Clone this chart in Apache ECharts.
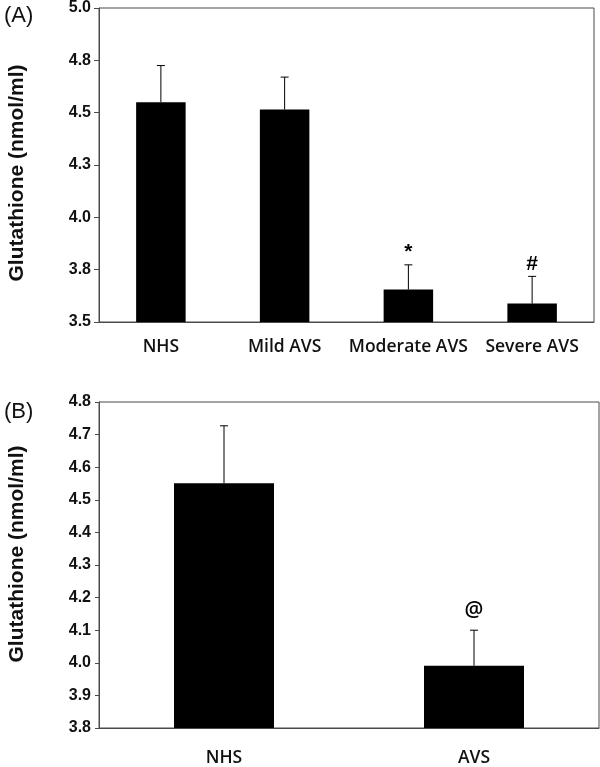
<!DOCTYPE html>
<html>
<head>
<meta charset="utf-8">
<script src="https://cdn.jsdelivr.net/npm/echarts@6/dist/echarts.min.js"></script>
<style>
html,body{margin:0;padding:0;background:#fff;}
#chart{width:600px;height:767px;}
</style>
</head>
<body>
<div id="chart"></div>
<script>
// Panel A data
var categoriesA = ['NHS', 'Mild AVS', 'Moderate AVS', 'Severe AVS'];
var meansA = [4.55, 4.515, 3.655, 3.588];
var errorsA = [0.175, 0.155, 0.118, 0.130];
var marksA = ['', '', '*', '#'];
var tickLabelsA = ['3.5', '3.8', '4.0', '4.3', '4.5', '4.8', '5.0'];

// Panel B data
var categoriesB = ['NHS', 'AVS'];
var meansB = [4.551, 3.991];
var errorsB = [0.176, 0.109];
var marksB = ['', '@'];
var tickLabelsB = ['3.8', '3.9', '4.0', '4.1', '4.2', '4.3', '4.4', '4.5', '4.6', '4.7', '4.8'];

var yTitle = 'Glutathione (nmol/ml)';
var panelLabels = ['(A)', '(B)'];

var chart = echarts.init(document.getElementById('chart'), null, {renderer: 'canvas'});

var axisColor = '#4a4a4a';

function errData(means, errs, marks) {
  return means.map(function (m, i) { return [i, m, errs[i], marks[i]]; });
}

function renderErr(markFont) {
  return function (params, api) {
    var i = api.value(0);
    var m = api.value(1);
    var e = api.value(2);
    var mark = api.value(3);
    var p0 = api.coord([i, m]);
    var p1 = api.coord([i, m + e]);
    var cap = 4;
    var children = [
      {type: 'line', shape: {x1: p0[0], y1: p0[1], x2: p1[0], y2: p1[1]}, style: {stroke: '#000', lineWidth: 1}},
      {type: 'line', shape: {x1: p1[0] - cap, y1: p1[1], x2: p1[0] + cap, y2: p1[1]}, style: {stroke: '#000', lineWidth: 1}}
    ];
    if (mark) {
      children.push({
        type: 'text',
        style: {
          text: mark, x: p1[0], y: p1[1] - markFont.gap,
          align: 'center', verticalAlign: 'bottom',
          font: markFont.font, fill: '#000'
        }
      });
    }
    return {type: 'group', children: children};
  };
}

var xLabelStyle = {color: '#111', fontFamily: 'Open Sans', fontSize: 17.5, fontWeight: 600};
var yLabelStyle = {color: '#111', fontFamily: 'Liberation Sans', fontSize: 16, fontWeight: 'bold'};

var option = {
  animation: false,
  backgroundColor: '#fff',
  grid: [
    {left: 99, top: 5, right: 6, bottom: 445, show: true, borderColor: axisColor, borderWidth: 1, backgroundColor: 'transparent'},
    {left: 99, top: 402, right: 1, bottom: 39, show: true, borderColor: axisColor, borderWidth: 1, backgroundColor: 'transparent'}
  ],
  xAxis: [
    {type: 'category', gridIndex: 0, data: categoriesA, boundaryGap: true,
     axisLine: {lineStyle: {color: axisColor}}, axisTick: {show: false},
     axisLabel: Object.assign({margin: 16, interval: 0}, xLabelStyle)},
    {type: 'category', gridIndex: 1, data: categoriesB, boundaryGap: true,
     axisLine: {lineStyle: {color: axisColor}}, axisTick: {show: false},
     axisLabel: Object.assign({margin: 21, interval: 0}, xLabelStyle)}
  ],
  yAxis: [
    {type: 'value', gridIndex: 0, min: 3.5, max: 5.0, interval: 0.25,
     splitLine: {show: false},
     axisLine: {show: true, lineStyle: {color: axisColor}},
     axisTick: {show: true, length: 5, lineStyle: {color: axisColor}},
     axisLabel: Object.assign({margin: 8, formatter: function (v, idx) { return tickLabelsA[idx]; }}, yLabelStyle)},
    {type: 'value', gridIndex: 1, min: 3.8, max: 4.8, interval: 0.1,
     splitLine: {show: false},
     axisLine: {show: true, lineStyle: {color: axisColor}},
     axisTick: {show: true, length: 4, lineStyle: {color: axisColor}},
     axisLabel: Object.assign({margin: 8, formatter: function (v, idx) { return tickLabelsB[idx]; }}, yLabelStyle)}
  ],
  series: [
    {type: 'bar', xAxisIndex: 0, yAxisIndex: 0, data: meansA, barWidth: '40%',
     itemStyle: {color: '#000'}, silent: true},
    {type: 'custom', xAxisIndex: 0, yAxisIndex: 0, data: errData(meansA, errorsA, marksA),
     renderItem: renderErr({font: 'bold 21px "Liberation Sans"', gap: 2}), z: 5, silent: true},
    {type: 'bar', xAxisIndex: 1, yAxisIndex: 1, data: meansB, barWidth: '40%',
     itemStyle: {color: '#000'}, silent: true},
    {type: 'custom', xAxisIndex: 1, yAxisIndex: 1, data: errData(meansB, errorsB, marksB),
     renderItem: renderErr({font: '600 21px "Open Sans"', gap: 9}), z: 5, silent: true}
  ],
  graphic: [
    {type: 'text', x: 4, y: 16, style: {text: panelLabels[0], font: '22px "Liberation Sans"', fill: '#111', align: 'left', verticalAlign: 'middle'}},
    {type: 'text', x: 4, y: 412, style: {text: panelLabels[1], font: '22px "Liberation Sans"', fill: '#111', align: 'left', verticalAlign: 'middle'}},
    {type: 'text', x: 17, y: 173, rotation: Math.PI / 2, style: {text: yTitle, font: 'bold 21px "Liberation Sans"', fill: '#111', align: 'center', verticalAlign: 'middle'}},
    {type: 'text', x: 17, y: 554, rotation: Math.PI / 2, style: {text: yTitle, font: 'bold 21px "Liberation Sans"', fill: '#111', align: 'center', verticalAlign: 'middle'}}
  ]
};

chart.setOption(option);
</script>
</body>
</html>
